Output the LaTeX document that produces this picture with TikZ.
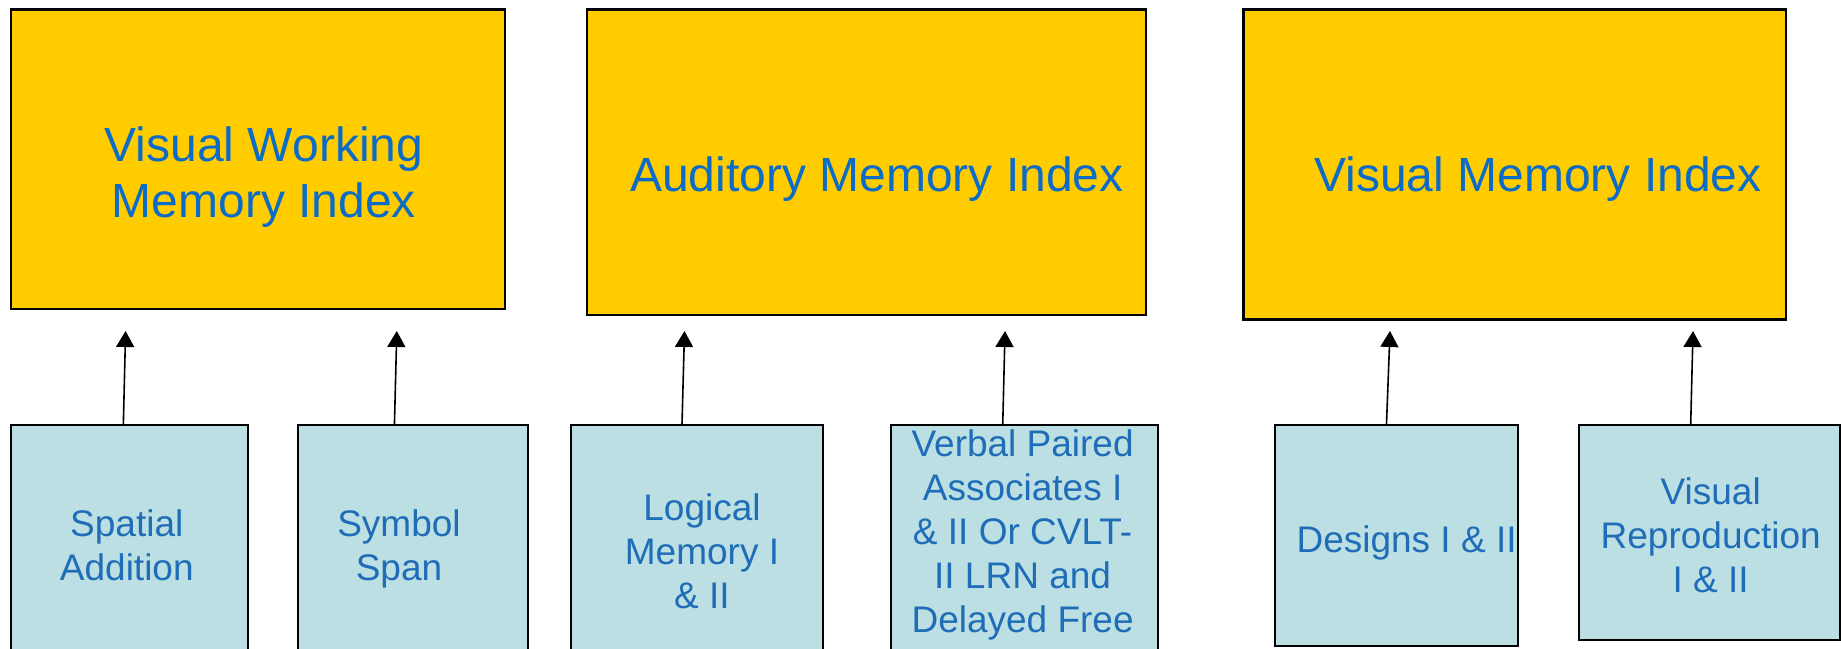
\documentclass[tikz,border=0pt]{standalone}
\usepackage{fontspec}
\setmainfont{Liberation Sans}
\usetikzlibrary{fit,arrows.meta}
\definecolor{ygold}{HTML}{FFCC00}
\definecolor{lblue}{HTML}{BBDFE2}
\definecolor{ytxt}{HTML}{0A6BC8}
\definecolor{btxt}{HTML}{1F6DB8}
\tikzset{
  ybox/.style={draw=black, line width=1.1pt, fill=ygold, inner sep=0pt},
  bbox/.style={draw=black, line width=1.1pt, fill=lblue, inner sep=0pt},
  ylabel/.style={text=ytxt, align=center, font=\fontsize{24}{28}\selectfont, inner sep=0pt},
  blabel/.style={text=btxt, align=center, font=\fontsize{18.5}{22}\selectfont, inner sep=0pt},
  arr/.style={draw=black, line width=0.8pt, -{Triangle[length=8pt,width=9pt]}}
}
\begin{document}
\begin{tikzpicture}[x=0.5pt,y=-0.5pt]
\useasboundingbox (0,0) rectangle (1841,648);
\clip (0,0) rectangle (1841,648);
% top boxes
\node[ybox, fit={(10.6,9.4) (504.8,308.8)}] (A) {};
\node[ybox, fit={(587,9.4) (1146,314.7)}] (B) {};
\node[ybox, fit={(1243.4,9.4) (1785.8,319.4)}] (C) {};
\node[ylabel] (Atxt) at (264,177.5) {Visual Working\\Memory Index};
\node[ylabel] (Btxt) at (877,179.5) {Auditory Memory Index};
\node[ylabel] (Ctxt) at (1538,179.5) {Visual Memory Index};
% bottom boxes
\node[bbox, fit={(10.6,425) (247.7,700)}] (D) {};
\node[bbox, fit={(298.2,425) (528.3,700)}] (E) {};
\node[bbox, fit={(570.6,425) (823,700)}] (F) {};
\node[bbox, fit={(891,425) (1157.7,700)}] (G) {};
\node[bbox, fit={(1275,425) (1518,646)}] (H) {};
\node[bbox, fit={(1579,425) (1840,640)}] (I) {};
\node[blabel] (Dtxt) at (126.8,545) {Spatial\\Addition};
\node[blabel] (Etxt) at (399,548.5) {Symbol\\Span};
\node[blabel] (Ftxt) at (702,551) {Logical\\Memory I\\\& II};
\node[blabel] (Gtxt) at (1022.6,534.5) {Verbal Paired\\Associates I\\\& II Or CVLT-\\II LRN and\\Delayed Free};
\node[blabel] (Htxt) at (1406.6,542.5) {Designs I \& II};
\node[blabel] (Itxt) at (1710.7,535) {Visual\\Reproduction\\I \& II};
% arrow tips (free ends)
\coordinate (t1) at (125.6,331);
\coordinate (t2) at (396.8,331);
\coordinate (t3) at (684.5,331);
\coordinate (t4) at (1005,331);
\coordinate (t5) at (1390,331);
\coordinate (t6) at (1693,331);
\draw[arr] ([xshift=-2.9pt]D.north) -- (t1);
\draw[arr] ([xshift=-9.4pt]E.north) -- (t2);
\draw[arr] ([xshift=-7.4pt]F.north) -- (t3);
\draw[arr] ([xshift=-10.8pt]G.north) -- (t4);
\draw[arr] ([xshift=-5pt]H.north) -- (t5);
\draw[arr] ([xshift=-9.4pt]I.north) -- (t6);
\end{tikzpicture}
\end{document}
